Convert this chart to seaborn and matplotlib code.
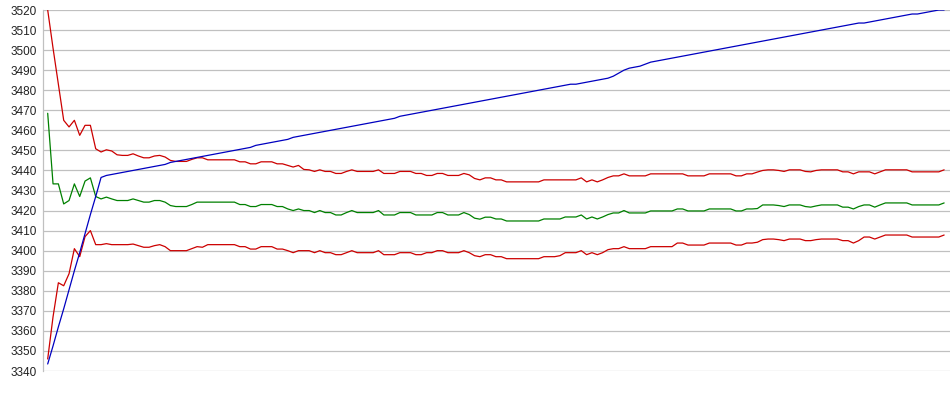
import pandas as pd
import matplotlib.pyplot as plt
import seaborn as sns

# values, one per sample step
upper = [
    3520, 3501, 3483, 3465, 3461.7, 3465, 3457.5, 3462.5, 3462.5, 3450.8,
    3449.2, 3450.3, 3449.7, 3447.8, 3447.5, 3447.5, 3448.3, 3447.2, 3446.3, 3446.3,
    3447.2, 3447.5, 3446.7, 3445, 3444.5, 3444.5, 3444.5, 3445.5, 3446.3, 3446.3,
    3445.3, 3445.3, 3445.3, 3445.3, 3445.3, 3445.3, 3444.3, 3444.3, 3443.3, 3443.3,
    3444.3, 3444.3, 3444.3, 3443.3, 3443.3, 3442.5, 3441.7, 3442.5, 3440.5, 3440.3,
    3439.5, 3440.3, 3439.5, 3439.5, 3438.5, 3438.5, 3439.5, 3440.3, 3439.5, 3439.5,
    3439.5, 3439.5, 3440.3, 3438.5, 3438.5, 3438.5, 3439.5, 3439.5, 3439.5, 3438.5,
    3438.5, 3437.5, 3437.5, 3438.5, 3438.5, 3437.5, 3437.5, 3437.5, 3438.5, 3437.8,
    3436, 3435.3, 3436.3, 3436.3, 3435.3, 3435.3, 3434.3, 3434.3, 3434.3, 3434.3,
    3434.3, 3434.3, 3434.3, 3435.3, 3435.3, 3435.3, 3435.3, 3435.3, 3435.3, 3435.3,
    3436.3, 3434.3, 3435.3, 3434.3, 3435.3, 3436.5, 3437.3, 3437.3, 3438.3, 3437.3,
    3437.3, 3437.3, 3437.3, 3438.3, 3438.3, 3438.3, 3438.3, 3438.3, 3438.3, 3438.3,
    3437.3, 3437.3, 3437.3, 3437.3, 3438.3, 3438.3, 3438.3, 3438.3, 3438.3, 3437.3,
    3437.3, 3438.3, 3438.3, 3439.2, 3440, 3440.3, 3440.3, 3440, 3439.5, 3440.3,
    3440.3, 3440.3, 3439.5, 3439.3, 3440, 3440.3, 3440.3, 3440.3, 3440.3, 3439.3,
    3439.3, 3438.3, 3439.3, 3439.3, 3439.3, 3438.3, 3439.3, 3440.3, 3440.3, 3440.3,
    3440.3, 3440.3, 3439.3, 3439.3, 3439.3, 3439.3, 3439.3, 3439.3, 3440.3,
]

middle = [
    3468.5, 3433.3, 3433.3, 3423.3, 3425, 3433.3, 3427, 3434.7, 3436.3, 3427,
    3425.8, 3426.7, 3425.8, 3425, 3425, 3425, 3425.8, 3425, 3424.2, 3424.2,
    3425, 3425, 3424.2, 3422.5, 3422, 3422, 3422, 3423, 3424.2, 3424.2,
    3424.2, 3424.2, 3424.2, 3424.2, 3424.2, 3424.2, 3423, 3423, 3422, 3422,
    3423, 3423, 3423, 3422, 3422, 3420.8, 3420, 3420.8, 3420, 3420,
    3419, 3420, 3419, 3419, 3417.8, 3417.8, 3419, 3420, 3419, 3419,
    3419, 3419, 3420, 3417.8, 3417.8, 3417.8, 3419, 3419, 3419, 3417.8,
    3417.8, 3417.8, 3417.8, 3419, 3419, 3417.8, 3417.8, 3417.8, 3419, 3418,
    3416.2, 3415.7, 3416.7, 3416.7, 3415.8, 3415.8, 3414.8, 3414.8, 3414.8, 3414.8,
    3414.8, 3414.8, 3414.8, 3415.8, 3415.8, 3415.8, 3415.8, 3416.8, 3416.8, 3416.8,
    3417.8, 3415.8, 3416.8, 3415.8, 3416.8, 3418, 3418.8, 3418.8, 3420, 3418.8,
    3418.8, 3418.8, 3418.8, 3419.8, 3419.8, 3419.8, 3419.8, 3419.8, 3420.8, 3420.8,
    3419.8, 3419.8, 3419.8, 3419.8, 3420.8, 3420.8, 3420.8, 3420.8, 3420.8, 3419.8,
    3419.8, 3420.8, 3420.8, 3421, 3422.8, 3422.8, 3422.8, 3422.5, 3422, 3422.8,
    3422.8, 3422.8, 3422, 3421.7, 3422.3, 3422.8, 3422.8, 3422.8, 3422.8, 3421.7,
    3421.7, 3420.8, 3422, 3422.8, 3422.8, 3421.7, 3422.8, 3423.8, 3423.8, 3423.8,
    3423.8, 3423.8, 3422.8, 3422.8, 3422.8, 3422.8, 3422.8, 3422.8, 3423.8,
]

lower = [
    3346, 3367, 3384, 3382.5, 3388.5, 3401, 3397, 3407, 3410, 3403,
    3403, 3403.5, 3403, 3403, 3403, 3403, 3403.3, 3402.5, 3401.7, 3401.7,
    3402.5, 3403, 3402, 3400, 3400, 3400, 3400, 3401, 3402, 3401.7,
    3403, 3403, 3403, 3403, 3403, 3403, 3402, 3402, 3400.8, 3400.8,
    3402, 3402, 3402, 3400.8, 3400.8, 3400, 3399, 3400, 3400, 3400,
    3399, 3400, 3399, 3399, 3398, 3398, 3399, 3400, 3399, 3399,
    3399, 3399, 3400, 3398, 3398, 3398, 3399, 3399, 3399, 3398,
    3398, 3399, 3399, 3400, 3400, 3399, 3399, 3399, 3400, 3399,
    3397.5, 3397, 3398, 3398, 3397, 3397, 3396, 3396, 3396, 3396,
    3396, 3396, 3396, 3397, 3397, 3397, 3397.5, 3399, 3399, 3399,
    3400, 3398, 3399, 3398, 3399, 3400.5, 3401, 3401, 3402, 3401,
    3401, 3401, 3401, 3402, 3402, 3402, 3402, 3402, 3403.8, 3403.8,
    3402.8, 3402.8, 3402.8, 3402.8, 3403.8, 3403.8, 3403.8, 3403.8, 3403.8, 3402.8,
    3402.8, 3403.8, 3403.8, 3404.2, 3405.5, 3405.8, 3405.8, 3405.5, 3405, 3405.8,
    3405.8, 3405.8, 3405, 3405, 3405.5, 3405.8, 3405.8, 3405.8, 3405.8, 3405,
    3405, 3403.8, 3405, 3406.8, 3406.8, 3405.8, 3406.8, 3407.8, 3407.8, 3407.8,
    3407.8, 3407.8, 3406.8, 3406.8, 3406.8, 3406.8, 3406.8, 3406.8, 3407.8,
]

price = [
    3343.5, 3352.5, 3362, 3371, 3380.5, 3390, 3399, 3408.5, 3418, 3427,
    3436.5, 3437.5, 3438, 3438.5, 3439, 3439.5, 3440, 3440.5, 3441, 3441.5,
    3442, 3442.5, 3443, 3444, 3444.5, 3445, 3445.5, 3446, 3446.5, 3447,
    3447.5, 3448, 3448.5, 3449, 3449.5, 3450, 3450.5, 3451, 3451.5, 3452.5,
    3453, 3453.5, 3454, 3454.5, 3455, 3455.5, 3456.5, 3457, 3457.5, 3458,
    3458.5, 3459, 3459.5, 3460, 3460.5, 3461, 3461.5, 3462, 3462.5, 3463,
    3463.5, 3464, 3464.5, 3465, 3465.5, 3466, 3467, 3467.5, 3468, 3468.5,
    3469, 3469.5, 3470, 3470.5, 3471, 3471.5, 3472, 3472.5, 3473, 3473.5,
    3474, 3474.5, 3475, 3475.5, 3476, 3476.5, 3477, 3477.5, 3478, 3478.5,
    3479, 3479.5, 3480, 3480.5, 3481, 3481.5, 3482, 3482.5, 3483, 3483,
    3483.5, 3484, 3484.5, 3485, 3485.5, 3486, 3487, 3488.5, 3490, 3491,
    3491.5, 3492, 3493, 3494, 3494.5, 3495, 3495.5, 3496, 3496.5, 3497,
    3497.5, 3498, 3498.5, 3499, 3499.5, 3500, 3500.5, 3501, 3501.5, 3502,
    3502.5, 3503, 3503.5, 3504, 3504.5, 3505, 3505.5, 3506, 3506.5, 3507,
    3507.5, 3508, 3508.5, 3509, 3509.5, 3510, 3510.5, 3511, 3511.5, 3512,
    3512.5, 3513, 3513.5, 3513.5, 3514, 3514.5, 3515, 3515.5, 3516, 3516.5,
    3517, 3517.5, 3518, 3518, 3518.5, 3519, 3519.5, 3520, 3520,
]

y_ticks = list(range(3340, 3521, 10))

colors = {"upper": "#cc0000", "lower": "#cc0000", "middle": "#008000", "price": "#0000c0"}

df = pd.DataFrame({"step": range(len(price)), "upper": upper, "middle": middle,
                   "lower": lower, "price": price})
long_df = df.melt(id_vars="step", var_name="series", value_name="value")

sns.set_style("white")
plt.rcParams["font.family"] = ["Liberation Sans", "DejaVu Sans"]

fig = plt.figure(figsize=(9.5, 3.95), dpi=100)
ax = fig.add_axes([43 / 950, 1 - 371 / 395, 907 / 950, 361 / 395])

sns.lineplot(data=long_df, x="step", y="value", hue="series",
             hue_order=["upper", "lower", "middle", "price"], palette=colors,
             linewidth=0.9, legend=False, errorbar=None, ax=ax)

ax.set_xlim(-0.88, 169.1)
ax.set_ylim(3340, 3520)
ax.set_yticks(y_ticks)
ax.set_xticks([])
ax.set_xlabel("")
ax.set_ylabel("")
ax.grid(axis="y", color="#c0c0c0", linewidth=0.9)
ax.set_axisbelow(True)
ax.tick_params(axis="y", length=0, pad=4.3, labelsize=8.5, labelcolor="#222222")
for side in ["top", "right", "bottom"]:
    ax.spines[side].set_visible(False)
ax.spines["left"].set_color("#c0c0c0")
ax.spines["left"].set_linewidth(0.9)

fig.savefig("out.png", dpi=100)
